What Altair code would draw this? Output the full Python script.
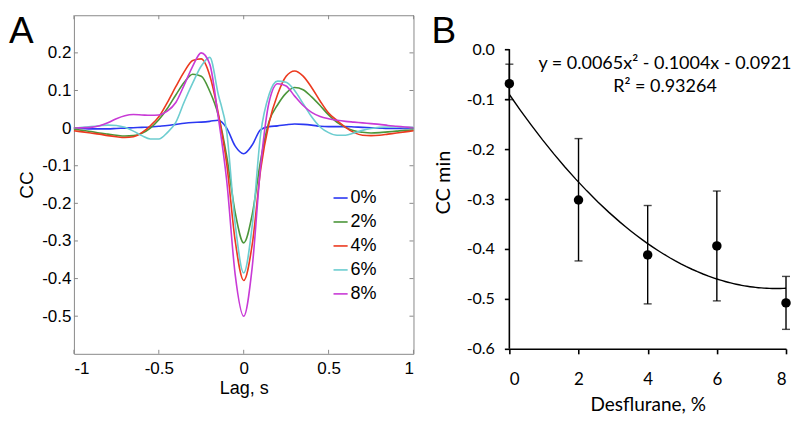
import altair as alt
import pandas as pd

# ---------------- Panel A data ----------------
LAG = [-1.00, -0.95, -0.90, -0.85, -0.80, -0.75, -0.70, -0.65, -0.60, -0.55,
       -0.50, -0.45, -0.40, -0.35, -0.30, -0.25, -0.20, -0.15, -0.10, -0.05,
       0.00, 0.05, 0.10, 0.15, 0.20, 0.25, 0.30, 0.35, 0.40, 0.45,
       0.50, 0.55, 0.60, 0.65, 0.70, 0.75, 0.80, 0.85, 0.90, 0.95, 1.00]

CC_0 = [0.000, -0.001, -0.002, -0.002, -0.002, -0.001, 0.000, 0.001, 0.002, 0.003,
        0.005, 0.007, 0.010, 0.013, 0.015, 0.016, 0.018, 0.021, 0.000, -0.048,
        -0.068, -0.045, -0.004, 0.004, 0.006, 0.009, 0.011, 0.010, 0.008, 0.005,
        0.004, 0.004, 0.004, 0.003, 0.002, 0.001, 0.000, -0.001, -0.001, -0.001, -0.001]

CC_2 = [-0.003, -0.006, -0.009, -0.013, -0.016, -0.019, -0.021, -0.020, -0.014, 0.000,
        0.022, 0.052, 0.088, 0.122, 0.143, 0.138, 0.098, 0.035, -0.075, -0.225,
        -0.305, -0.230, -0.085, 0.018, 0.062, 0.093, 0.108, 0.102, 0.083, 0.060,
        0.035, 0.015, 0.002, -0.007, -0.011, -0.013, -0.012, -0.010, -0.008, -0.006, -0.005]

CC_4 = [-0.007, -0.010, -0.013, -0.016, -0.020, -0.023, -0.025, -0.023, -0.012, 0.006,
        0.030, 0.068, 0.110, 0.150, 0.180, 0.184, 0.140, 0.040, -0.095, -0.300,
        -0.405, -0.310, -0.110, 0.015, 0.090, 0.138, 0.152, 0.138, 0.108, 0.072,
        0.040, 0.020, 0.002, -0.012, -0.019, -0.020, -0.019, -0.016, -0.013, -0.010, -0.007]

CC_6 = [0.000, 0.002, 0.004, 0.006, 0.008, 0.007, 0.002, -0.008, -0.020, -0.029,
        -0.029, -0.012, 0.015, 0.070, 0.120, 0.165, 0.188, 0.090, -0.010, -0.255,
        -0.385, -0.260, -0.015, 0.090, 0.125, 0.122, 0.100, 0.065, 0.030, 0.003,
        -0.012, -0.019, -0.019, -0.013, -0.006, -0.001, 0.002, 0.003, 0.003, 0.002, 0.002]

CC_8 = [0.000, 0.001, 0.002, 0.006, 0.014, 0.025, 0.033, 0.036, 0.035, 0.034,
        0.035, 0.045, 0.068, 0.115, 0.165, 0.200, 0.170, 0.030, -0.140, -0.390,
        -0.500, -0.370, -0.100, 0.070, 0.118, 0.112, 0.085, 0.060, 0.042, 0.031,
        0.025, 0.021, 0.018, 0.016, 0.014, 0.012, 0.010, 0.007, 0.005, 0.003, 0.001]

SERIES = ["0%", "2%", "4%", "6%", "8%"]
COLORS = ["#2b38f2", "#4c963a", "#ec3a1f", "#6dcdd0", "#c83ad6"]

XTICKS_A = [-1, -0.5, 0, 0.5, 1]
YTICKS_A = [-0.5, -0.4, -0.3, -0.2, -0.1, 0, 0.1, 0.2]

# ---------------- Panel B data ----------------
X_B = [0, 2, 4, 6, 8]
MEAN_B = [-0.069, -0.302, -0.412, -0.394, -0.508]
UPPER_B = [-0.030, -0.179, -0.313, -0.284, -0.455]
LOWER_B = [-0.101, -0.424, -0.510, -0.504, -0.561]
XTICKS_B = [0, 2, 4, 6, 8]
YTICKS_B = [0.0, -0.1, -0.2, -0.3, -0.4, -0.5, -0.6]
Y_AXIS_B = [-0.6, 0.0]          # extent of panel B's vertical axis line
Y_VIEW_B = [-0.6, 0.068]        # visible range (headroom above 0.0 for the label)
EQ_TEXT = ["y = 0.0065x\u00b2 - 0.1004x - 0.0921", "R\u00b2 = 0.93264"]
EQ_X = 4.5
EQ_Y = -0.011

# ---------------- styling ----------------
FONT_A = "Liberation Sans"
FONT_B = "Lato"
W_A, H_A = 340, 339
W_B, H_B = 277, 334
FRAME = "#8a8a8a"

rows = []
for name, vals in zip(SERIES, [CC_0, CC_2, CC_4, CC_6, CC_8]):
    for l, v in zip(LAG, vals):
        rows.append({"lag": l, "cc": v, "series": name})
df_a = pd.DataFrame(rows)

xs_a = alt.Scale(domain=[-1, 1], nice=False, zero=False)
ys_a = alt.Scale(domain=[-0.6, 0.3], nice=False, zero=False)

axis_x_a = alt.Axis(values=XTICKS_A, title="Lag, s", labelExpr="'' + datum.value",
                    ticks=False, domain=False, grid=False, labelPadding=7,
                    labelFontSize=17, titleFontSize=18, titlePadding=3,
                    labelFont=FONT_A, titleFont=FONT_A, labelColor="black",
                    titleColor="black", titleFontWeight="normal")
axis_y_a = alt.Axis(values=YTICKS_A, title="CC", labelExpr="'' + datum.value",
                    ticks=False, domain=False, grid=False, labelPadding=3,
                    labelFontSize=17, titleFontSize=19, titlePadding=5,
                    labelFont=FONT_A, titleFont=FONT_A, labelColor="black",
                    titleColor="black", titleFontWeight="normal")

lines = alt.Chart(df_a).mark_line(strokeWidth=1.6, interpolate="monotone").encode(
    x=alt.X("lag:Q", scale=xs_a, axis=axis_x_a, title="Lag, s"),
    y=alt.Y("cc:Q", scale=ys_a, axis=axis_y_a, title="CC"),
    color=alt.Color("series:N", scale=alt.Scale(domain=SERIES, range=COLORS),
                    legend=alt.Legend(title=None, orient="none", legendX=258, legendY=174,
                                      symbolType="stroke", symbolSize=200,
                                      symbolStrokeWidth=1.6, labelFontSize=18,
                                      labelFont=FONT_A, labelColor="black",
                                      rowPadding=6, labelOffset=1, padding=0)),
    order=alt.Order("lag:Q"),
)

xt = pd.DataFrame({"t": XTICKS_A})
yt = pd.DataFrame({"t": YTICKS_A})
tick_style = dict(color=FRAME, strokeWidth=1)
tb = alt.Chart(xt).mark_rule(**tick_style).encode(
    x=alt.X("t:Q", scale=xs_a, axis=axis_x_a, title="Lag, s"),
    y=alt.value(H_A), y2=alt.value(H_A - 4))
tt = alt.Chart(xt).mark_rule(**tick_style).encode(
    x=alt.X("t:Q", scale=xs_a, axis=axis_x_a, title="Lag, s"),
    y=alt.value(0), y2=alt.value(4))
tl = alt.Chart(yt).mark_rule(**tick_style).encode(
    y=alt.Y("t:Q", scale=ys_a, axis=axis_y_a, title="CC"),
    x=alt.value(0), x2=alt.value(4))
tr = alt.Chart(yt).mark_rule(**tick_style).encode(
    y=alt.Y("t:Q", scale=ys_a, axis=axis_y_a, title="CC"),
    x=alt.value(W_A), x2=alt.value(W_A - 4))

lab_a = alt.Chart(pd.DataFrame({"t": ["A"]})).mark_text(
    fontSize=37, font=FONT_A, align="left", baseline="alphabetic", color="black"
).encode(x=alt.value(-65), y=alt.value(28), text="t:N")

panel_a = alt.layer(lines, tb, tt, tl, tr, lab_a).properties(
    width=W_A, height=H_A, view=alt.ViewBackground(stroke=FRAME, strokeWidth=1))

# ---------------- Panel B ----------------
df_b = pd.DataFrame({"x": X_B, "mean": MEAN_B, "lo": LOWER_B, "hi": UPPER_B})
xs_b = alt.Scale(domain=[0, 8], nice=False, zero=False)
ys_b = alt.Scale(domain=Y_VIEW_B, nice=False, zero=False)

axis_x_b = alt.Axis(values=XTICKS_B, title="Desflurane, %", grid=False,
                    domainColor="black", domainWidth=1.6, tickColor="black",
                    tickWidth=1.6, tickSize=5, labelPadding=18, labelFont=FONT_B,
                    labelFontSize=17, titleFont=FONT_B, titleFontSize=19,
                    titleFontWeight="normal", titlePadding=8, labelColor="black",
                    titleColor="black")
axis_y_b = alt.Axis(values=YTICKS_B, title="CC min", grid=False, domain=False,
                    labelExpr="datum.value == 0 ? '0.0' : '' + datum.value",
                    tickColor="black", tickWidth=1.6, tickSize=5, labelPadding=10,
                    labelFont=FONT_B, labelFontSize=16, titleFont=FONT_B,
                    titleFontSize=20, titleFontWeight="normal", titlePadding=13,
                    labelColor="black", titleColor="black")


def bx(field="x"):
    return alt.X(f"{field}:Q", scale=xs_b, axis=axis_x_b, title="Desflurane, %")


def by(field):
    return alt.Y(f"{field}:Q", scale=ys_b, axis=axis_y_b, title="CC min")


base_b = alt.Chart(df_b)
yline = alt.Chart(pd.DataFrame({"x": [X_B[0]], "y": [Y_AXIS_B[0]], "y2": [Y_AXIS_B[1]]})).mark_rule(
    color="black", strokeWidth=1.6).encode(x=bx("x"), y=by("y"), y2="y2:Q")
fit = base_b.transform_regression("x", "mean", method="poly", order=2, extent=[0, 8]).mark_line(
    color="black", strokeWidth=1.4).encode(x=bx(), y=by("mean"))
bars = base_b.mark_rule(color="black", strokeWidth=1.4).encode(
    x=bx(), y=by("lo"), y2="hi:Q")
cap_lo = base_b.mark_tick(color="black", thickness=1.4, size=8, orient="horizontal").encode(
    x=bx(), y=by("lo"))
cap_hi = base_b.mark_tick(color="black", thickness=1.4, size=8, orient="horizontal").encode(
    x=bx(), y=by("hi"))
pts = base_b.mark_circle(size=90, color="black", opacity=1).encode(
    x=bx(), y=by("mean"))

eq = alt.Chart(pd.DataFrame({"x": [EQ_X], "y": [EQ_Y], "t": [EQ_TEXT]})).mark_text(
    font=FONT_B, fontSize=18, lineHeight=23, align="center", baseline="top", color="black"
).encode(x=bx("x"), y=by("y"), text="t")

lab_b = alt.Chart(pd.DataFrame({"t": ["B"]})).mark_text(
    fontSize=37, font=FONT_A, align="left", baseline="alphabetic", color="black"
).encode(x=alt.value(-78), y=alt.value(28), text="t:N")

panel_b = alt.layer(yline, fit, bars, cap_lo, cap_hi, pts, eq, lab_b).properties(
    width=W_B, height=H_B, view=alt.ViewBackground(stroke=None))

chart = alt.hconcat(panel_a, panel_b, spacing=14).properties(
    padding={"left": 0, "top": 4, "right": 0, "bottom": 0}
).configure_view(stroke=None)

chart.save("out.html", embed_options={"renderer": "svg", "actions": False})
